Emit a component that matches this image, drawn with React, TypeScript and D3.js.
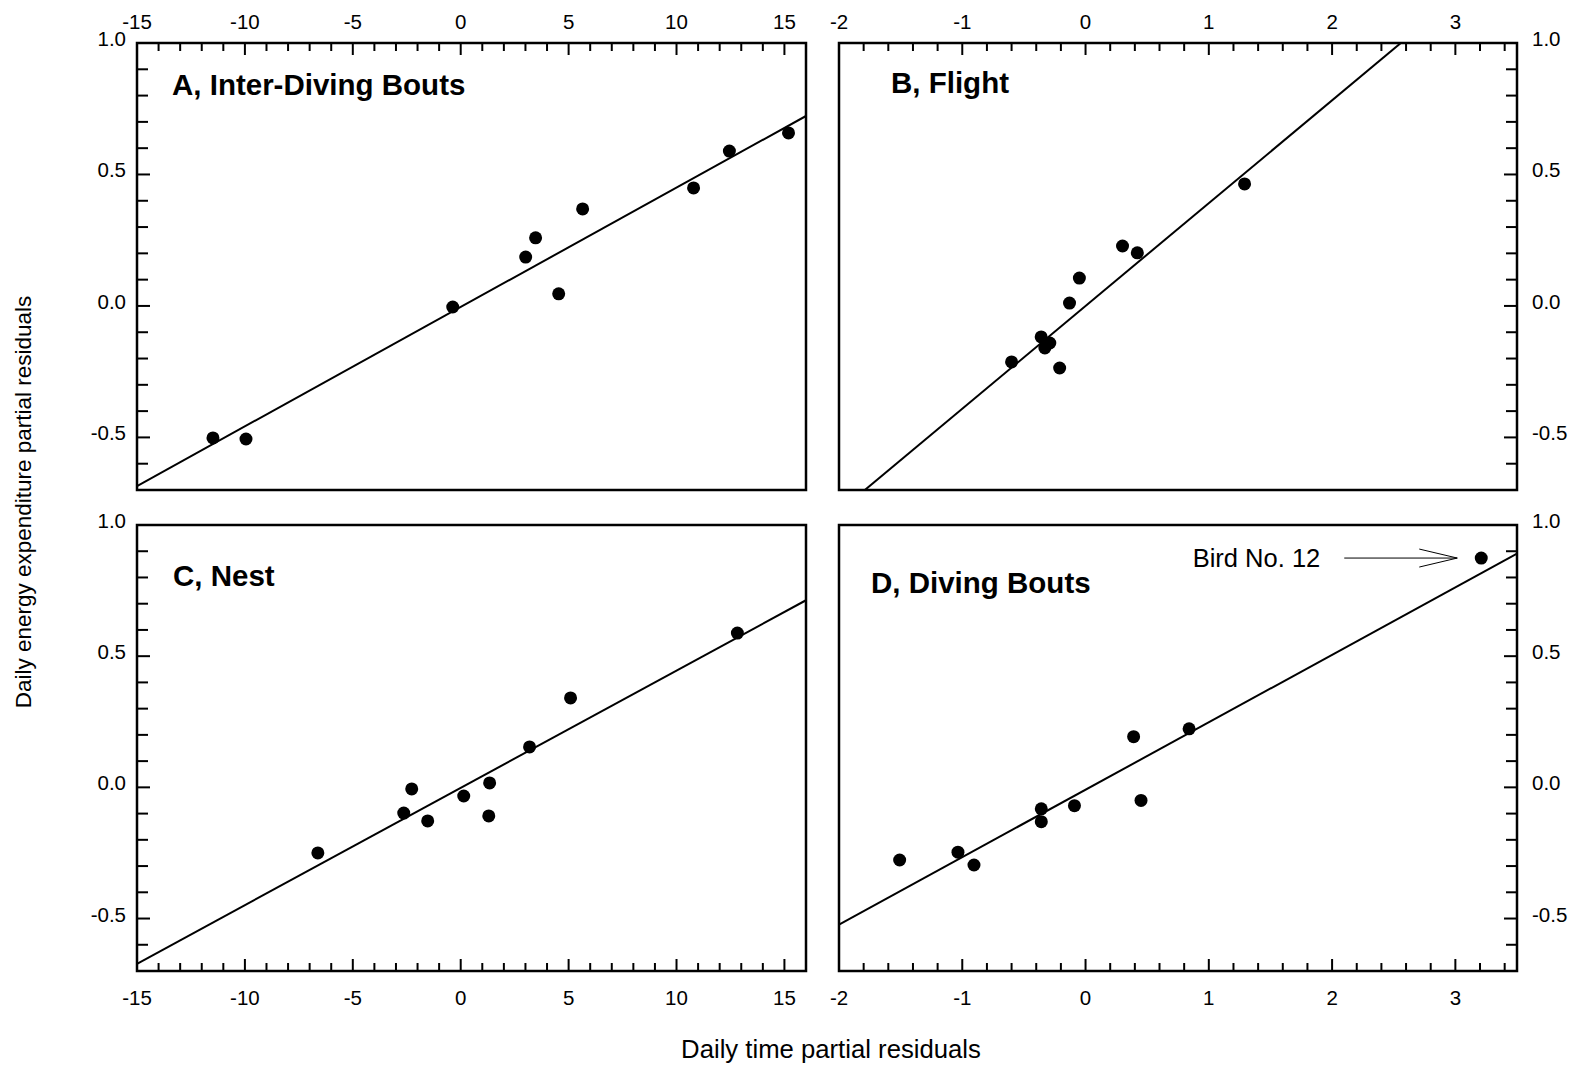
import React from 'react';
import * as d3 from 'd3';

// ---- data ----
const panelTitles = ['A, Inter-Diving Bouts', 'B, Flight', 'C, Nest', 'D, Diving Bouts'];
const aX = [-11.48, -9.95, -0.37, 3.01, 3.47, 4.54, 5.65, 10.79, 12.45, 15.19];
const aY = [-0.502, -0.506, -0.004, 0.186, 0.259, 0.046, 0.369, 0.449, 0.589, 0.658];
const bX = [-0.6, -0.36, -0.33, -0.29, -0.21, -0.13, -0.05, 0.3, 0.42, 1.29];
const bY = [-0.213, -0.118, -0.16, -0.141, -0.236, 0.011, 0.106, 0.228, 0.202, 0.464];
const cX = [-6.62, -2.64, -2.27, -1.53, 0.14, 1.3, 1.34, 3.19, 5.09, 12.82];
const cY = [-0.25, -0.098, -0.006, -0.128, -0.033, -0.109, 0.017, 0.154, 0.341, 0.588];
const dX = [-1.508, -1.035, -0.905, -0.359, -0.359, -0.09, 0.39, 0.45, 0.84, 3.21];
const dY = [-0.277, -0.247, -0.296, -0.082, -0.131, -0.07, 0.193, -0.05, 0.223, 0.874];
const fitSlope = [0.0454, 0.391, 0.0447, 0.257];
const fitIntercept = [-0.004, 0.0, -0.002, -0.009];
const wideTimeTicks = [-15, -10, -5, 0, 5, 10, 15];
const narrowTimeTicks = [-2, -1, 0, 1, 2, 3];
const energyTicks = [-0.5, 0.0, 0.5, 1.0];
const xTitle = 'Daily time partial residuals';
const yTitle = 'Daily energy expenditure partial residuals';
const annotationText = 'Bird No. 12';
const annotationIndex = 9;

const FONT = '"Liberation Sans", Arial, Helvetica, sans-serif';

type PanelCfg = {
  title: string;
  xs: number[];
  ys: number[];
  slope: number;
  intercept: number;
  xDomain: [number, number];
  xRange: [number, number];
  yRange: [number, number];
  majorTicks: number[];
  minorStep: number;
  xSide: 'top' | 'bottom';
  ySide: 'left' | 'right';
  titlePos: [number, number];
  annotate?: boolean;
};

const panels: PanelCfg[] = [
  { title: panelTitles[0], xs: aX, ys: aY, slope: fitSlope[0], intercept: fitIntercept[0], xDomain: [-15, 16], xRange: [137, 806], yRange: [490, 43], majorTicks: wideTimeTicks, minorStep: 1, xSide: 'top', ySide: 'left', titlePos: [172, 95] },
  { title: panelTitles[1], xs: bX, ys: bY, slope: fitSlope[1], intercept: fitIntercept[1], xDomain: [-2, 3.5], xRange: [839, 1517], yRange: [490, 43], majorTicks: narrowTimeTicks, minorStep: 0.2, xSide: 'top', ySide: 'right', titlePos: [891, 93] },
  { title: panelTitles[2], xs: cX, ys: cY, slope: fitSlope[2], intercept: fitIntercept[2], xDomain: [-15, 16], xRange: [137, 806], yRange: [971, 525], majorTicks: wideTimeTicks, minorStep: 1, xSide: 'bottom', ySide: 'left', titlePos: [173, 586] },
  { title: panelTitles[3], xs: dX, ys: dY, slope: fitSlope[3], intercept: fitIntercept[3], xDomain: [-2, 3.5], xRange: [839, 1517], yRange: [971, 525], majorTicks: narrowTimeTicks, minorStep: 0.2, xSide: 'bottom', ySide: 'right', titlePos: [871, 593], annotate: true },
];

function Panel({ cfg, idx }: { cfg: PanelCfg; idx: number }) {
  const x = d3.scaleLinear().domain(cfg.xDomain).range(cfg.xRange);
  const y = d3.scaleLinear().domain([-0.7, 1.0]).range(cfg.yRange);
  const [x0, x1] = cfg.xRange;
  const [yb, yt] = cfg.yRange;
  const n = Math.floor((cfg.xDomain[1] - cfg.xDomain[0]) / cfg.minorStep + 1e-9);
  const minor = d3.range(n + 1).map((i) => +(cfg.xDomain[0] + i * cfg.minorStep).toFixed(4));
  const yMinor = d3.range(18).map((i) => +(-0.7 + i * 0.1).toFixed(4));
  const isMajorX = (v: number) => cfg.majorTicks.some((t) => Math.abs(t - v) < 1e-6);
  const isMajorY = (v: number) => energyTicks.some((t) => Math.abs(t - v) < 1e-6);
  const axisY = cfg.xSide === 'top' ? yt : yb;
  const dir = cfg.xSide === 'top' ? 1 : -1;
  const axisX = cfg.ySide === 'left' ? x0 : x1;
  const hdir = cfg.ySide === 'left' ? 1 : -1;
  const clipId = `clip${idx}`;
  const line = d3.line<number>().x((v) => x(v)).y((v) => y(cfg.intercept + cfg.slope * v));
  const fitPath = line([cfg.xDomain[0], cfg.xDomain[1]]) || '';

  let annot = null;
  if (cfg.annotate) {
    const px = x(cfg.xs[annotationIndex]);
    const py = y(cfg.ys[annotationIndex]);
    const tip = px - 24;
    annot = (
      <g>
        <line x1={px - 137} x2={tip} y1={py} y2={py} stroke="#000" strokeWidth={1} />
        <polyline points={`${tip - 38},${py - 9} ${tip},${py} ${tip - 38},${py + 9}`} fill="none" stroke="#000" strokeWidth={1} />
        <text x={px - 161} y={py + 9} textAnchor="end" fontSize={25.5} fontFamily={FONT}>{annotationText}</text>
      </g>
    );
  }

  return (
    <g>
      <defs>
        <clipPath id={clipId}>
          <rect x={x0} y={yt} width={x1 - x0} height={yb - yt} />
        </clipPath>
      </defs>
      {minor.map((v) => (
        <line key={'xt' + v} x1={x(v)} x2={x(v)} y1={axisY} y2={axisY + dir * (isMajorX(v) ? 12 : 8)} stroke="#000" strokeWidth={2} />
      ))}
      {cfg.majorTicks.map((v) => (
        <text key={'xl' + v} x={x(v)} y={cfg.xSide === 'top' ? axisY - 14 : axisY + 34} textAnchor="middle" fontSize={20.5} fontFamily={FONT}>{v}</text>
      ))}
      {yMinor.map((v) => (
        <line key={'yt' + v} x1={axisX} x2={axisX + hdir * (isMajorY(v) ? 13 : 11)} y1={y(v)} y2={y(v)} stroke="#000" strokeWidth={2} />
      ))}
      {energyTicks.map((v) => (
        <text key={'yl' + v} x={cfg.ySide === 'left' ? axisX - 11 : axisX + 15} y={y(v) + 3} textAnchor={cfg.ySide === 'left' ? 'end' : 'start'} fontSize={20.5} fontFamily={FONT}>{v.toFixed(1)}</text>
      ))}
      <path d={fitPath} stroke="#000" strokeWidth={2} fill="none" clipPath={`url(#${clipId})`} />
      {cfg.xs.map((v, i) => (
        <circle key={'p' + i} cx={x(v)} cy={y(cfg.ys[i])} r={6.5} fill="#000" />
      ))}
      <rect x={x0} y={yt} width={x1 - x0} height={yb - yt} fill="none" stroke="#000" strokeWidth={2.5} />
      <text x={cfg.titlePos[0]} y={cfg.titlePos[1]} fontSize={29.5} fontWeight="bold" fontFamily={FONT}>{cfg.title}</text>
      {annot}
    </g>
  );
}

export default function App() {
  return (
    <svg width={1571} height={1065} style={{ position: 'absolute', left: 0, top: 0, background: '#fff' }}>
      <rect x={0} y={0} width={1571} height={1065} fill="#fff" />
      {panels.map((p, i) => (
        <Panel key={i} cfg={p} idx={i} />
      ))}
      <text x={831} y={1058} textAnchor="middle" fontSize={25.7} fontFamily={FONT}>{xTitle}</text>
      <text transform="translate(31,502) rotate(-90)" textAnchor="middle" fontSize={22.5} fontFamily={FONT}>{yTitle}</text>
    </svg>
  );
}
